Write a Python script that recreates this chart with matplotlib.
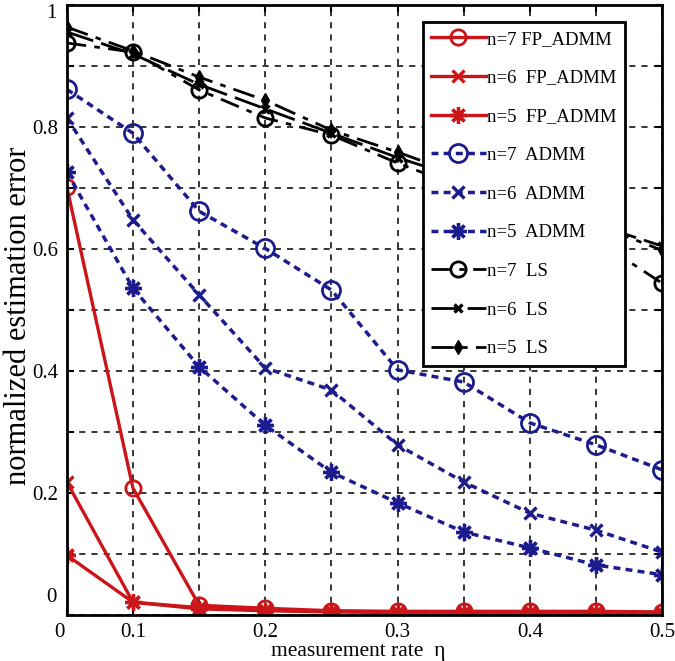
import matplotlib.pyplot as plt
import numpy as np

plt.rcParams['font.family'] = ['Liberation Serif', 'DejaVu Serif']

# measurement rate
rate = [0.05, 0.10, 0.15, 0.20, 0.25, 0.30, 0.35, 0.40, 0.45, 0.50]

fp_n7 = [0.702, 0.208, 0.016, 0.011, 0.007, 0.006, 0.006, 0.006, 0.006, 0.005]
fp_n6 = [0.218, 0.021, 0.012, 0.008, 0.006, 0.005, 0.005, 0.005, 0.005, 0.004]
fp_n5 = [0.098, 0.021, 0.010, 0.007, 0.005, 0.004, 0.004, 0.004, 0.004, 0.004]

admm_n7 = [0.862, 0.790, 0.662, 0.601, 0.533, 0.402, 0.382, 0.315, 0.279, 0.238]
admm_n6 = [0.815, 0.648, 0.525, 0.405, 0.369, 0.279, 0.218, 0.167, 0.139, 0.103]
admm_n5 = [0.726, 0.536, 0.407, 0.311, 0.234, 0.184, 0.136, 0.110, 0.082, 0.066]

ls_n7 = [0.938, 0.923, 0.861, 0.815, 0.787, 0.741, 0.700, 0.660, 0.615, 0.544]
ls_n6 = [0.956, 0.920, 0.870, 0.830, 0.790, 0.750, 0.715, 0.675, 0.640, 0.605]
ls_n5 = [0.964, 0.925, 0.882, 0.844, 0.795, 0.759, 0.720, 0.680, 0.640, 0.598]

xtick_labels = ['', '0.1', '', '0.2', '', '0.3', '', '0.4', '', '0.5']
ytick_labels = ['', '', '0.2', '', '0.4', '', '0.6', '', '0.8', '', '']

red = '#cc1518'
blue = '#1c1c8e'
aster = (8, 2, 0)  # matlab style '*'

fig = plt.figure(figsize=(6.75, 6.61), dpi=100)
ax = fig.add_axes([0.099, 0.0696, 0.882, 0.9226])

ax.plot(rate, fp_n7, color=red, lw=2.4, marker='o', ms=11, mfc='none', mew=2, label='n=7 FP_ADMM')
ax.plot(rate, fp_n6, color=red, lw=2.4, marker='x', ms=8, mew=2.4, label='n=6  FP_ADMM')
ax.plot(rate, fp_n5, color=red, lw=2.4, marker=aster, ms=12, mew=2.4, label='n=5  FP_ADMM')

dots = (0, (2, 1.5))
ax.plot(rate, admm_n7, color=blue, lw=2.5, ls=dots, marker='o', ms=13, mfc='none', mew=2, label='n=7  ADMM')
ax.plot(rate, admm_n6, color=blue, lw=2.5, ls=dots, marker='x', ms=8, mew=2.4, label='n=6  ADMM')
ax.plot(rate, admm_n5, color=blue, lw=2.5, ls=dots, marker=aster, ms=12, mew=2.4, label='n=5  ADMM')

ax.plot(rate, ls_n7, color='black', lw=2, ls=(0, (7, 3, 2, 3)), marker='o', ms=11, mfc='none', mew=2, label='n=7  LS')
ax.plot(rate, ls_n6, color='black', lw=2, ls=(0, (10, 3)), marker='x', ms=6, mew=2.4, label='n=6  LS')
ax.plot(rate, ls_n5, color='black', lw=2, ls=(0, (8, 3, 2, 3)), marker='d', ms=7, label='n=5  LS')

ax.set_xlim(0.05, 0.5)
ax.set_ylim(0, 1)
ax.set_xticks(rate)
ax.set_xticklabels(xtick_labels)
ax.set_yticks(np.linspace(0, 1, 11))
ax.set_yticklabels(ytick_labels)
ax.tick_params(direction='in', length=5, width=1.5, labelsize=15, top=True, right=True, pad=6)
ax.grid(True, color='black', ls=(0, (4, 4)), lw=1.1)
for s in ax.spines.values():
    s.set_linewidth(2)

# the "0" and "1" labels sit off their ticks in the original
ax.text(-0.017, 0.028, '0', transform=ax.transAxes, ha='right', va='center', fontsize=15)
ax.text(-0.012, -0.028, '0', transform=ax.transAxes, ha='center', va='center', fontsize=15)
ax.text(-0.017, 0.987, '1', transform=ax.transAxes, ha='right', va='center', fontsize=15)

ax.set_xlabel('measurement rate  \u03b7', fontsize=15.5)
ax.xaxis.set_label_coords(0.49, -0.045)
ax.set_ylabel('normalized estimation error', fontsize=22)
ax.yaxis.set_label_coords(-0.057, 0.49)

leg = ax.legend(loc='upper left', bbox_to_anchor=(0.598, 0.972), fontsize=13.5, handlelength=2.9,
                labelspacing=1.15, borderpad=0.45, fancybox=False, framealpha=1,
                edgecolor='black', handletextpad=0.05, borderaxespad=0)
leg.get_frame().set_linewidth(2)

fig.savefig('out.png', dpi=100)
